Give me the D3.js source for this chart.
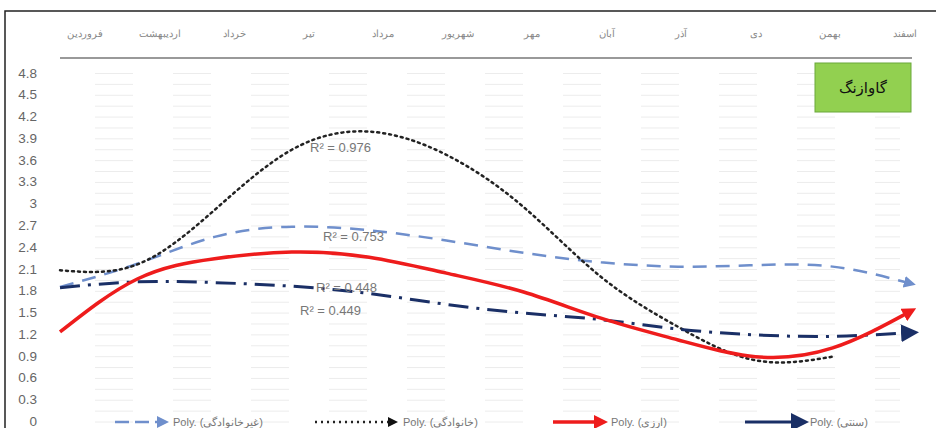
<!DOCTYPE html>
<html>
<head>
<meta charset="utf-8">
<script src="https://cdn.jsdelivr.net/npm/d3@7"></script>
<style>
  body { margin: 0; background: #fff; }
  svg { display: block; font-family: "Liberation Sans", Arial, sans-serif; }
</style>
</head>
<body>
<svg id="chart" width="936" height="428"></svg>
<script>
// months, left to right
const months = ['فروردین', 'اردیبهشت', 'خرداد', 'تیر', 'مرداد', 'شهریور', 'مهر', 'آبان', 'آذر', 'دی', 'بهمن', 'اسفند'];
const yTicks = [0, 0.3, 0.6, 0.9, 1.2, 1.5, 1.8, 2.1, 2.4, 2.7, 3, 3.3, 3.6, 3.9, 4.2, 4.5, 4.8];

// trendline values, one per month
const nonFamily = [1.86, 2.18, 2.55, 2.69, 2.64, 2.5, 2.33, 2.2, 2.14, 2.16, 2.14, 1.91];
const family = [2.09, 2.17, 2.92, 3.75, 4.0, 3.68, 2.96, 2.0, 1.31, 0.85, 0.9];
const currency = [1.24, 1.97, 2.25, 2.34, 2.27, 2.05, 1.79, 1.43, 1.13, 0.9, 1.02, 1.52];
const traditional = [1.85, 1.93, 1.92, 1.87, 1.77, 1.62, 1.5, 1.41, 1.28, 1.2, 1.18, 1.23];

const seriesNames = ['غیرخانوادگی', 'خانوادگی', 'ارزی', 'سنتی'];
const r2Labels = ['R² = 0.976', 'R² = 0.753', 'R² = 0.448', 'R² = 0.449'];

const svg = d3.select('#chart');

const x = d3.scalePoint().domain(months).range([60, 910]);
const xLabel = d3.scalePoint().domain(months).range([85, 905]);
const y = d3.scaleLinear().domain([0, 4.8]).range([422, 73.5]);

// outer frame
svg.append('rect')
  .attr('x', 5).attr('y', 11)
  .attr('width', 940).attr('height', 430)
  .attr('fill', 'none')
  .attr('stroke', '#222')
  .attr('stroke-width', 1.5);

// faint grid
const gridVals = d3.range(0, 4.81, 0.15);
svg.append('g')
  .selectAll('line')
  .data(gridVals)
  .enter()
  .append('line')
  .attr('x1', 95).attr('x2', 900)
  .attr('y1', d => y(d)).attr('y2', d => y(d))
  .attr('stroke', '#ececec')
  .attr('stroke-width', 1)
  .attr('stroke-dasharray', '38,40');

// top axis with month names
svg.append('line')
  .attr('x1', 60).attr('x2', 912)
  .attr('y1', 58).attr('y2', 58)
  .attr('stroke', '#777')
  .attr('stroke-width', 1.5);

svg.append('g')
  .selectAll('text')
  .data(months)
  .enter()
  .append('text')
  .attr('x', d => xLabel(d))
  .attr('y', 37)
  .attr('text-anchor', 'middle')
  .attr('font-size', 10)
  .attr('fill', '#888')
  .text(d => d);

// y labels
svg.append('g')
  .selectAll('text')
  .data(yTicks)
  .enter()
  .append('text')
  .attr('x', 37)
  .attr('y', d => y(d) + 4)
  .attr('text-anchor', 'end')
  .attr('font-size', 13.5)
  .attr('fill', '#666')
  .text(d => d);

// arrow markers
const defs = svg.append('defs');
const addMarker = (id, color, size) => {
  defs.append('marker')
    .attr('id', id)
    .attr('viewBox', '0 0 10 10')
    .attr('refX', 5).attr('refY', 5)
    .attr('markerUnits', 'userSpaceOnUse')
    .attr('markerWidth', size).attr('markerHeight', size)
    .attr('orient', 'auto')
    .append('path')
    .attr('d', 'M0,0 L10,5 L0,10 Z')
    .attr('fill', color);
};
addMarker('m-blue', '#6f8fcc', 12);
addMarker('m-black', '#111', 10);
addMarker('m-red', '#ee1c1c', 14);
addMarker('m-navy', '#1a2f66', 18);

const series = [
  { key: 'blue', values: nonFamily, color: '#6f8fcc', width: 2.5, dash: '14,9', marker: 'm-blue' },
  { key: 'black', values: family, color: '#222', width: 2.5, dash: '2,4', marker: null },
  { key: 'navy', values: traditional, color: '#1a2f66', width: 3, dash: '20,8,3,8', marker: 'm-navy' },
  { key: 'red', values: currency, color: '#ee1c1c', width: 3.5, dash: null, marker: 'm-red' }
];

const line = d3.line()
  .x(d => x(d.m))
  .y(d => y(d.v))
  .curve(d3.curveNatural);

svg.append('g')
  .selectAll('path')
  .data(series)
  .enter()
  .append('path')
  .attr('d', s => line(s.values.map((v, i) => ({ m: months[i], v }))))
  .attr('fill', 'none')
  .attr('stroke', s => s.color)
  .attr('stroke-width', s => s.width)
  .attr('stroke-dasharray', s => s.dash)
  .attr('stroke-linecap', s => s.key === 'black' ? 'round' : 'butt')
  .attr('marker-end', s => s.marker ? `url(#${s.marker})` : null);

// R² labels
const r2Pos = [[310, 152], [323, 241], [316, 292], [300, 315]];
svg.append('g')
  .selectAll('text')
  .data(r2Labels)
  .enter()
  .append('text')
  .attr('x', (d, i) => r2Pos[i][0])
  .attr('y', (d, i) => r2Pos[i][1])
  .attr('font-size', 13)
  .attr('fill', '#777')
  .text(d => d);

// green title box
svg.append('rect')
  .attr('x', 815).attr('y', 63)
  .attr('width', 96).attr('height', 49)
  .attr('fill', '#92d050')
  .attr('stroke', '#6aa83a')
  .attr('stroke-width', 1);
svg.append('text')
  .attr('x', 863).attr('y', 93)
  .attr('text-anchor', 'middle')
  .attr('font-family', '"Noto Sans", "DejaVu Sans", sans-serif')
  .attr('font-size', 15)
  .attr('fill', '#111')
  .text('گاوازنگ');

// legend
const legendItems = [
  { x: 115, len: 48, color: '#6f8fcc', width: 2.5, dash: '14,6', marker: 'm-blue', name: seriesNames[0] },
  { x: 315, len: 78, color: '#222', width: 2.5, dash: '2,4', marker: 'm-black', name: seriesNames[1] },
  { x: 553, len: 48, color: '#ee1c1c', width: 3.5, dash: null, marker: 'm-red', name: seriesNames[2] },
  { x: 745, len: 55, color: '#1a2f66', width: 3, dash: null, marker: 'm-navy', name: seriesNames[3] }
];
const lg = svg.append('g')
  .selectAll('g')
  .data(legendItems)
  .enter()
  .append('g');
lg.append('line')
  .attr('x1', d => d.x).attr('x2', d => d.x + d.len)
  .attr('y1', 422).attr('y2', 422)
  .attr('stroke', d => d.color)
  .attr('stroke-width', d => d.width)
  .attr('stroke-dasharray', d => d.dash)
  .attr('marker-end', d => `url(#${d.marker})`);
lg.append('text')
  .attr('x', d => d.x + d.len + 10)
  .attr('y', 426)
  .attr('font-size', 11)
  .attr('fill', '#777')
  .text(d => `Poly. (${d.name})`);
</script>
</body>
</html>
